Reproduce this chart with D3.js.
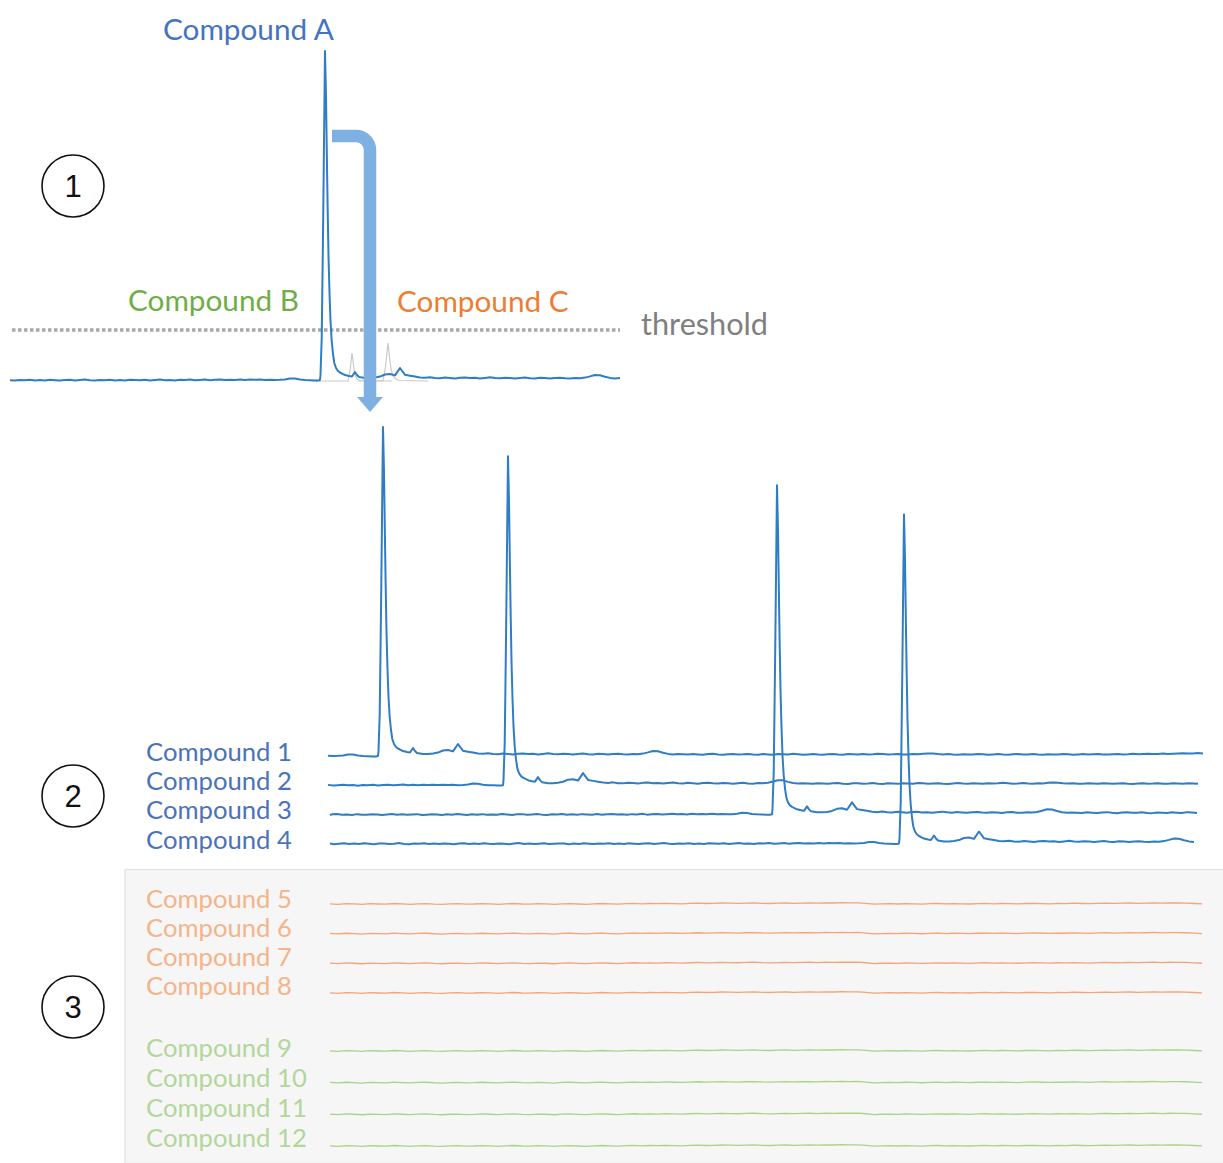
<!DOCTYPE html>
<html><head><meta charset="utf-8">
<script src="https://cdn.jsdelivr.net/npm/d3@7"></script>
<style>html,body{margin:0;padding:0;background:#fff;}svg{display:block;}</style>
</head><body>
<script>
// ---------------- DATA ----------------
// Chromatogram template (intensity above baseline, px-equivalent units), apex at scan 0
const preStartScan = -580, noiseStep = 5, postStartScan = 45;
const preNoise = [
  0.5,1,0.3,0.8,1.2,0.4,0.9,0.6,1.3,0.7,
  0.2,0.9,1.1,0.5,0.8,1.4,0.6,0.3,1,0.7,
  1.2,0.5,0.9,0.4,1.1,0.8,0.3,1,1.3,0.6,
  0.9,0.4,1.2,0.7,0.5,1.1,0.8,0.3,0.9,1.4,
  0.6,1,0.5,0.8,1.2,0.4,0.7,1.1,0.9,0.3,
  1,0.6,1.3,0.8,0.4,1.1,0.7,1.2,0.5,0.9,
  0.6,1.3,0.8,0.4,1,1.2,0.5,0.9,1.4,0.7,
  0.4,1.1,0.8,1.3,0.6,1,0.5,1.2,0.9,0.7,
  1.3,0.6,1,1.4,0.8,1.1,0.5,1.2,0.9,1.5,
  0.7,1.1,1.4,0.8,1.2,1.6,1,1.3,0.9,1.5,
  1.1,1.4,1.2,1.5,1.1,1.3,1,1.2,1.6,2.6,
  2.4,1.4,1,0.8,0.6
];
const peakProfile = [
  [-7,0.6],[-5,1],[-4.5,6],[-4,22],[-3.3,42],[-2.5,105],[-1.7,172],[-1,238],[0,330],
  [1,285],[2,215],[2.7,170],[3.5,125],[4.5,88],[5.5,60],[6.7,40],[8,27],[9.3,18],
  [11,13],[13,10],[15,8.5],[17.5,7.2],[20,6],[24,5],[27,4.5],[30,9],[32,6],[34,4],[37,3.5],[40,3]
];
const postNoise = [
  3,3.4,4.4,6.5,7,5.6,13,6.2,5.3,4.5,
  3.6,3.2,3.8,3,2.8,3.5,3.1,2.6,3.3,3.6,
  2.9,3.2,2.6,3.1,3.7,3,2.7,3.3,2.9,2.5,
  3.1,3.4,2.8,2.6,3.2,2.9,2.4,3,3.3,2.7,
  2.5,3.1,2.8,3.4,4.6,6,5.8,4.3,3.1,2.6,
  2.9,
  2.7,2.4,3,2.6,2.3,2.9,3.2,2.5,2.2,2.8,
  3,2.5,2.7,3.1,2.4,2.2,2.9,2.6,2.3,3,
  2.7,2.4,3.2,2.8,2.3,2.6,3,2.5,2.2,2.7,
  3.1,2.6,2.3,2.9,2.7,2.4,3,2.6,2.8,3.3,
  2.9,2.5,2.7,3.1,2.6,2.4,2.9,2.7,3.3,3.6,
  3.4,2.9,2.6,3,2.5,2.3,2.8,2.6,2.4,2.9,
  2.7,2.3,2.6,3,2.5,2.2,2.7,2.9,2.4,2.6,
  3,2.5,2.3,2.8,2.6,2.4,2.9,2.7,2.3,2.6,
  2.9,2.5,2.8,3.1,2.6,2.4,2.7,3,2.6,2.8,
  3.2,2.7,3,3.3,2.9,3.1,3.4,3,3.2,3.5,
  3.7,3.4,3.6,3.9,3.5,3.1,2.5
];
// Sub-threshold compounds in panel 1 (relative to their own apex)
const compoundBProfile = [[-40,0],[-4,0],[-2,10],[0,28],[1.5,16],[3,6],[5,2],[8,0.5],[40,0]];
const compoundCProfile = [[-30,0],[-5,0],[-2.5,14],[0,38],[1.5,24],[3,12],[5,5],[8,2],[11,0.5],[40,0]];
const panel1Apex = {A: 0, B: 27, C: 63};
const panel1Range = [-313, 296];
const thresholdLevel = 51;

// Panel 2 : detected compounds
const detectedLabels = ["Compound 1","Compound 2","Compound 3","Compound 4"];
const detectedApex   = [55, 180, 449, 576];
const detectedStart  = [0, 0, 2, 2];
const detectedEnd    = [875, 872, 870, 867];

// Panel 3 : compounds with no signal
const orangeLabels = ["Compound 5","Compound 6","Compound 7","Compound 8"];
const greenLabels  = ["Compound 9","Compound 10","Compound 11","Compound 12"];
const quietStart = 2, quietStep = 8, quietEnd = 874;
const quietNoise = [
  0.2,-0.3,0.4,0.1,-0.4,0.3,0,-0.2,0.5,0.1,
  -0.3,0.2,0.4,-0.1,-0.4,0.1,0.3,-0.2,0,0.4,
  0.1,-0.3,0.2,0.5,0,-0.2,0.3,0.1,-0.4,0.2,
  0.4,0,-0.3,0.2,0.5,0.1,-0.2,0.3,0.6,0.2,
  0.5,0.3,0.7,0.4,0.2,0.6,0.9,0.5,0.7,1,
  0.8,0.6,0.9,1.1,0.7,0.5,0.8,1,0.7,0.9,
  1.1,0.8,1.2,1,1.3,1.1,1.2,0.6,-0.2,0.1,
  0.3,0,0.4,0.2,-0.1,0.3,0.5,0.1,0.4,0.2,
  0,0.4,0.6,0.2,0.5,0.3,0.1,0.5,0.7,0.4,
  0.2,0.6,0.4,0.8,0.5,0.3,0.7,0.9,0.6,0.8,
  1,0.7,0.9,1.2,0.8,1.1,1,0.9,0.5,0.1
];

// ---------------- BUILD ----------------
const template = [
  ...preNoise.map((h, i) => [preStartScan + i * noiseStep, h]),
  ...peakProfile,
  ...postNoise.map((h, i) => [postStartScan + i * noiseStep, h])
];
const quietTrace = quietNoise.map((h, i) => [quietStart + i * quietStep, h]);

const W = 1223, H = 1163;
const FONT = "Lato, 'Open Sans', sans-serif";
const svg = d3.select("body").append("svg").attr("width", W).attr("height", H);

function fitSize(text, target) {
  const t = svg.append("text").attr("font-family", FONT).attr("font-size", 100).text(text);
  const w = t.node().getComputedTextLength();
  t.remove();
  return 100 * target / w;
}
const topSize = fitSize("Compound A", 171);
const rowSize = fitSize("Compound 1", 146);
const thrSize = fitSize("threshold", 127);

const blue = "#2f7dc4", labelBlue = "#4a72bd";

// Panel 3 background
svg.append("rect").attr("x", 125).attr("y", 869.5).attr("width", W - 124).attr("height", H - 869)
  .attr("fill", "#f6f6f6").attr("stroke", "#e2e2e2").attr("stroke-width", 1.2);

// ----- Panel 1 -----
const x1 = d3.scaleLinear().domain(panel1Range).range([12, 621]);
const y1 = d3.scaleLinear().domain([0, 330]).range([381, 51]);
const line1 = d3.line().x(d => x1(d[0])).y(d => y1(d[1]));

[[compoundBProfile, panel1Apex.B], [compoundCProfile, panel1Apex.C]].forEach(([prof, apex]) => {
  svg.append("path").datum(prof.map(d => [d[0] + apex, d[1]]))
    .attr("d", line1).attr("fill", "none").attr("stroke", "#c9c9c9").attr("stroke-width", 1.2);
});

svg.append("line").attr("x1", x1(panel1Range[0])).attr("x2", x1(panel1Range[1]) - 1)
  .attr("y1", y1(thresholdLevel)).attr("y2", y1(thresholdLevel))
  .attr("stroke", "#a9a9a9").attr("stroke-width", 3.5).attr("stroke-dasharray", "3.5,2.5");

svg.append("path")
  .datum(template.map(d => [d[0] + panel1Apex.A, d[1]]).filter(d => d[0] >= panel1Range[0] - 5 && d[0] <= panel1Range[1]))
  .attr("d", line1).attr("fill", "none").attr("stroke", blue).attr("stroke-width", 2).attr("stroke-linejoin", "round");

svg.append("text").attr("x", 163).attr("y", 40).attr("font-family", FONT).attr("font-size", topSize)
  .attr("fill", "#4472c4").text("Compound A");
svg.append("text").attr("x", 128).attr("y", 311).attr("font-family", FONT).attr("font-size", topSize)
  .attr("fill", "#70ad47").text("Compound B");
svg.append("text").attr("x", 397).attr("y", 312).attr("font-family", FONT).attr("font-size", topSize)
  .attr("fill", "#ed7d31").text("Compound C");
svg.append("text").attr("x", 641).attr("y", 335).attr("font-family", FONT).attr("font-size", thrSize)
  .attr("fill", "#7f7f7f").text("threshold");

// ----- Panel 2 -----
const x2 = d3.scaleLinear().domain([0, 875]).range([328, 1203]);
const row2 = d3.scaleLinear().domain([0, 3]).range([757, 844.5]);
detectedLabels.forEach((lab, i) => {
  const y0 = row2(i);
  const yS = d3.scaleLinear().domain([0, 330]).range([y0, y0 - 330]);
  const pts = template.map(d => [d[0] + detectedApex[i], d[1]])
    .filter(d => d[0] >= detectedStart[i] - 4 && d[0] <= detectedEnd[i]);
  svg.append("path").datum(pts)
    .attr("d", d3.line().x(d => x2(Math.max(d[0], detectedStart[i]))).y(d => yS(d[1])))
    .attr("fill", "none").attr("stroke", blue).attr("stroke-width", 2).attr("stroke-linejoin", "round");
  svg.append("text").attr("x", 146).attr("y", y0 + 4).attr("font-family", FONT).attr("font-size", rowSize)
    .attr("fill", labelBlue).text(lab);
});

// ----- Panel 3 -----
const lineO = d3.scaleLinear().domain([0, 3]).range([904, 993]);
const lineG = d3.scaleLinear().domain([0, 3]).range([1051, 1146]);
const textO = d3.scaleLinear().domain([0, 3]).range([908, 995]);
const textG = d3.scaleLinear().domain([0, 3]).range([1057, 1147]);
const quietPts = quietTrace.filter(d => d[0] >= quietStart && d[0] <= quietEnd);
[[orangeLabels, lineO, textO, "#f3a478", "#f4b48a"], [greenLabels, lineG, textG, "#a9d18e", "#b2d69b"]].forEach(([labs, sc, tsc, lc, tc]) => {
  labs.forEach((lab, i) => {
    const y0 = sc(i);
    const yS = d3.scaleLinear().domain([0, 330]).range([y0, y0 - 330]);
    svg.append("path").datum(quietPts)
      .attr("d", d3.line().x(d => x2(d[0])).y(d => yS(d[1])))
      .attr("fill", "none").attr("stroke", lc).attr("stroke-width", 1.3);
    svg.append("text").attr("x", 146).attr("y", tsc(i)).attr("font-family", FONT).attr("font-size", rowSize)
      .attr("fill", tc).text(lab);
  });
});

// ----- Arrow (annotation from panel 1 to panel 2) -----
const ax0 = x1(7), ax1 = x1(45), ay0 = y1(245), ayEnd = y1(-17);
const ap = d3.path();
ap.moveTo(ax0, ay0);
ap.arcTo(ax1, ay0, ax1, ay0 + 14, 14);
ap.lineTo(ax1, ayEnd);
svg.append("path").attr("d", ap.toString()).attr("fill", "none").attr("stroke", "#7eb0e2").attr("stroke-width", 12.5);
svg.append("path").attr("d", d3.line()([[ax1 - 13, ayEnd - 1], [ax1 + 13, ayEnd - 1], [ax1, ayEnd + 14]]) + "Z")
  .attr("fill", "#7eb0e2");

// ----- Step circles -----
[["1", 186], ["2", 796], ["3", 1007]].forEach(([n, cy]) => {
  svg.append("circle").attr("cx", 73).attr("cy", cy).attr("r", 31)
    .attr("fill", "none").attr("stroke", "#111").attr("stroke-width", 1.6);
  svg.append("text").attr("x", 73).attr("y", cy + 11).attr("text-anchor", "middle")
    .attr("font-family", "'Liberation Sans', Arial, sans-serif").attr("font-size", 31).attr("fill", "#111").text(n);
});
</script>
</body></html>
